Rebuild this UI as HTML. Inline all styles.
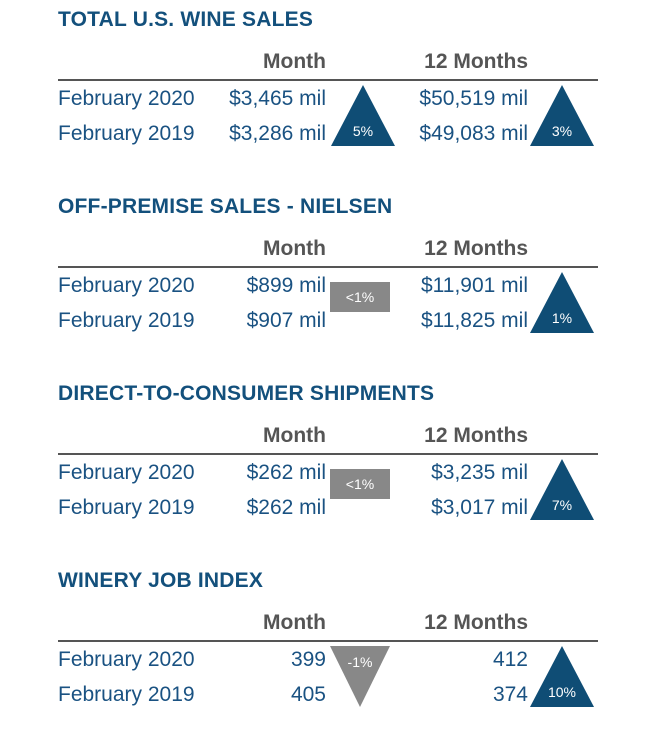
<!DOCTYPE html>
<html><head><style>
body{margin:0;width:650px;height:745px;background:#fff;position:relative;font-family:"Liberation Sans",sans-serif;overflow:hidden}
.s{position:absolute;left:0;width:650px;height:187px}
.t{position:absolute;left:58px;top:8px;font-size:21px;font-weight:bold;color:#13507c;letter-spacing:0.2px}
.h{position:absolute;top:50px;font-size:21px;font-weight:bold;color:#555}
.ln{position:absolute;left:58px;top:79px;width:540px;height:2px;background:#555}
.v{position:absolute;font-size:21px;color:#1a5282}
.l{left:58px}
.r1{right:324px;text-align:right}
.r2{right:122px;text-align:right}
svg{position:absolute}
</style></head><body>

<div class="s" style="top:0">
<div class="t">TOTAL U.S. WINE SALES</div>
<div class="h" style="right:324px">Month</div><div class="h" style="right:122px">12 Months</div>
<div class="ln"></div>
<div class="v l" style="top:87px">February 2020</div><div class="v l" style="top:122px">February 2019</div>
<div class="v r1" style="top:87px">$3,465 mil</div><div class="v r1" style="top:122px">$3,286 mil</div>
<div class="v r2" style="top:87px">$50,519 mil</div><div class="v r2" style="top:122px">$49,083 mil</div>
<svg style="left:330px;top:85px" width="66" height="62"><polygon points="33,0 65,61 1,61" fill="#0f4d75"/><text x="33" y="51" fill="#fff" font-size="14" text-anchor="middle" font-family="Liberation Sans">5%</text></svg>
<svg style="left:529px;top:85px" width="66" height="62"><polygon points="33,0 65,61 1,61" fill="#0f4d75"/><text x="33" y="51" fill="#fff" font-size="14" text-anchor="middle" font-family="Liberation Sans">3%</text></svg>
</div>

<div class="s" style="top:187px">
<div class="t">OFF-PREMISE SALES - NIELSEN</div>
<div class="h" style="right:324px">Month</div><div class="h" style="right:122px">12 Months</div>
<div class="ln"></div>
<div class="v l" style="top:87px">February 2020</div><div class="v l" style="top:122px">February 2019</div>
<div class="v r1" style="top:87px">$899 mil</div><div class="v r1" style="top:122px">$907 mil</div>
<div class="v r2" style="top:87px">$11,901 mil</div><div class="v r2" style="top:122px">$11,825 mil</div>
<svg style="left:330px;top:95px" width="60" height="30"><rect width="60" height="30" fill="#888"/><text x="30" y="20" fill="#fff" font-size="14" text-anchor="middle" font-family="Liberation Sans">&lt;1%</text></svg>
<svg style="left:529px;top:85px" width="66" height="62"><polygon points="33,0 65,61 1,61" fill="#0f4d75"/><text x="33" y="51" fill="#fff" font-size="14" text-anchor="middle" font-family="Liberation Sans">1%</text></svg>
</div>

<div class="s" style="top:374px">
<div class="t">DIRECT-TO-CONSUMER SHIPMENTS</div>
<div class="h" style="right:324px">Month</div><div class="h" style="right:122px">12 Months</div>
<div class="ln"></div>
<div class="v l" style="top:87px">February 2020</div><div class="v l" style="top:122px">February 2019</div>
<div class="v r1" style="top:87px">$262 mil</div><div class="v r1" style="top:122px">$262 mil</div>
<div class="v r2" style="top:87px">$3,235 mil</div><div class="v r2" style="top:122px">$3,017 mil</div>
<svg style="left:330px;top:95px" width="60" height="30"><rect width="60" height="30" fill="#888"/><text x="30" y="20" fill="#fff" font-size="14" text-anchor="middle" font-family="Liberation Sans">&lt;1%</text></svg>
<svg style="left:529px;top:85px" width="66" height="62"><polygon points="33,0 65,61 1,61" fill="#0f4d75"/><text x="33" y="51" fill="#fff" font-size="14" text-anchor="middle" font-family="Liberation Sans">7%</text></svg>
</div>

<div class="s" style="top:561px">
<div class="t">WINERY JOB INDEX</div>
<div class="h" style="right:324px">Month</div><div class="h" style="right:122px">12 Months</div>
<div class="ln"></div>
<div class="v l" style="top:87px">February 2020</div><div class="v l" style="top:122px">February 2019</div>
<div class="v r1" style="top:87px">399</div><div class="v r1" style="top:122px">405</div>
<div class="v r2" style="top:87px">412</div><div class="v r2" style="top:122px">374</div>
<svg style="left:329px;top:85px" width="62" height="62"><polygon points="1,0 61,0 31,61" fill="#888"/><text x="31" y="21" fill="#fff" font-size="14" text-anchor="middle" font-family="Liberation Sans">-1%</text></svg>
<svg style="left:529px;top:85px" width="66" height="62"><polygon points="33,0 65,61 1,61" fill="#0f4d75"/><text x="33" y="51" fill="#fff" font-size="14" text-anchor="middle" font-family="Liberation Sans">10%</text></svg>
</div>

</body></html>
